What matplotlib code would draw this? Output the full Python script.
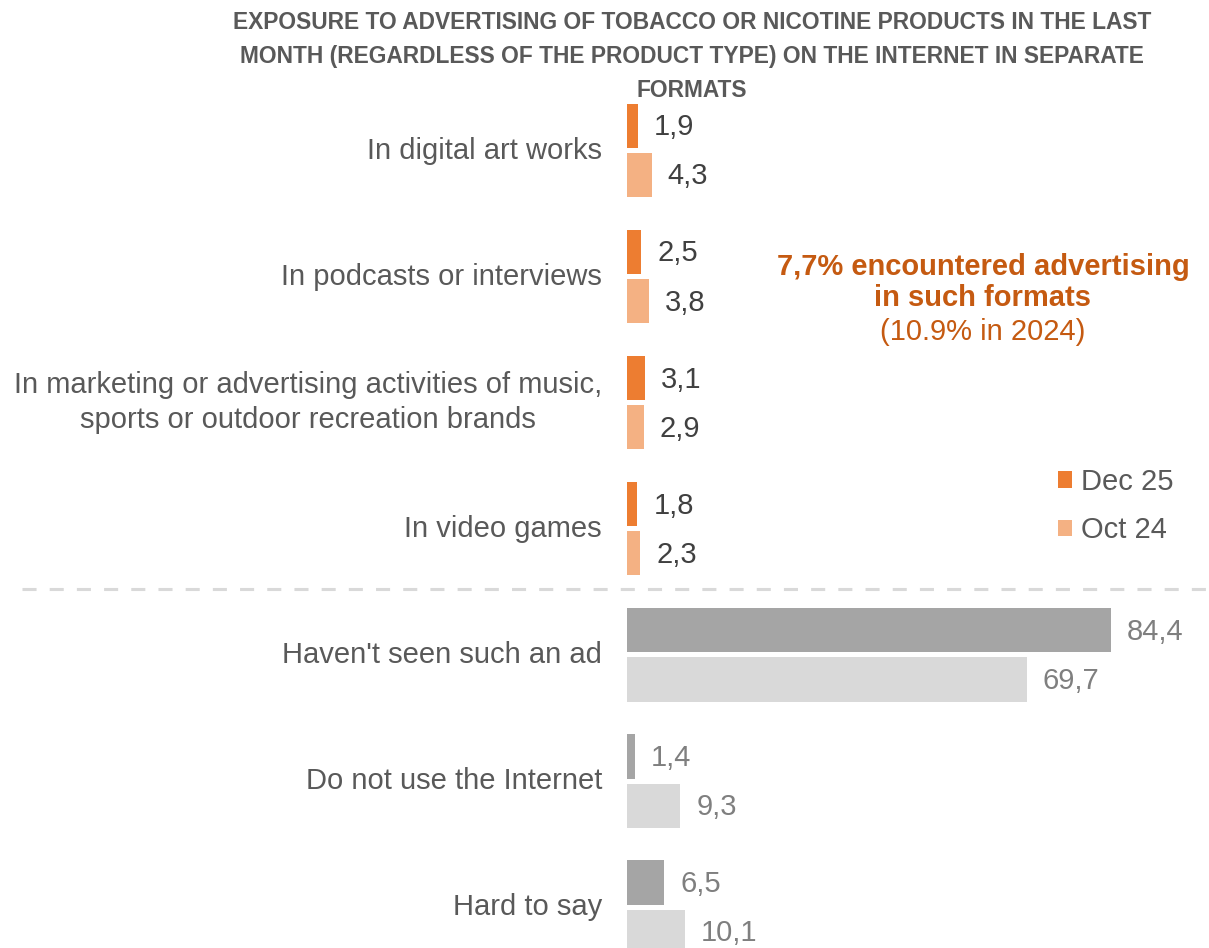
import numpy as np
import matplotlib.pyplot as plt

plt.rcParams["font.family"] = ["Liberation Sans", "DejaVu Sans"]

title = ("EXPOSURE TO ADVERTISING OF TOBACCO OR NICOTINE PRODUCTS IN THE LAST\n"
         "MONTH (REGARDLESS OF THE PRODUCT TYPE) ON THE INTERNET IN SEPARATE\n"
         "FORMATS")

categories = [
    "In digital art works",
    "In podcasts or interviews",
    "In marketing or advertising activities of music,\nsports or outdoor recreation brands",
    "In video games",
    "Haven't seen such an ad",
    "Do not use the Internet",
    "Hard to say",
]
dec25 = [1.9, 2.5, 3.1, 1.8, 84.4, 1.4, 6.5]
oct24 = [4.3, 3.8, 2.9, 2.3, 69.7, 9.3, 10.1]
n_formats = 4  # first rows are the advertising formats, rest are other answers

fmt_colors = ("#ED7D31", "#F4B183")
other_colors = ("#A5A5A5", "#D9D9D9")

W, H = 1209, 948
x0 = 627                 # pixel where bars start
px_per_unit = 5.735

fig = plt.figure(figsize=(W / 100, H / 100), dpi=100)
ax = fig.add_axes([x0 / W, 0, 1 - x0 / W, 1])

y = np.arange(len(categories))
h, off = 0.35, 0.195
for i, (a, b) in enumerate(zip(dec25, oct24)):
    is_fmt = i < n_formats
    c1, c2 = fmt_colors if is_fmt else other_colors
    txt_color = "#404040" if is_fmt else "#7F7F7F"
    ax.barh(y[i] - off, a, height=h, color=c1, label="Dec 25" if i == 0 else None)
    ax.barh(y[i] + off, b, height=h, color=c2, label="Oct 24" if i == 0 else None)
    for val, yy in ((a, y[i] - off), (b, y[i] + off)):
        ax.annotate(f"{val:.1f}".replace(".", ","), (val, yy), xytext=(11.5, -1),
                    textcoords="offset points", va="center", ha="left",
                    fontsize=21, color=txt_color)
    ax.text(-25 / (W - x0), y[i], categories[i], transform=ax.get_yaxis_transform(),
            ha="right", va="center", multialignment="center",
            fontsize=21, color="#595959", linespacing=1.3)

ax.set_xlim(0, (W - x0) / px_per_unit)
ax.set_ylim(6.324, -1.1935)
ax.axis("off")

# separator between formats and other answers
ax.plot([-(x0 - 22) / px_per_unit, (W - x0) / px_per_unit], [3.477, 3.477],
        color="#D9D9D9", lw=2.2, linestyle=(0, (4.6, 4.3)), clip_on=False)

fig.text(692 / W, 1 - 56.5 / H, title, ha="center", va="center",
         fontsize=16.4, fontweight="bold", color="#595959", linespacing=1.6)

fig.text(983 / W, 1 - 282.5 / H, "7,7% encountered advertising\nin such formats",
         ha="center", va="center", fontsize=21, fontweight="bold",
         color="#C55A11", linespacing=1.15)
fig.text(983 / W, 1 - 332 / H, "(10.9% in 2024)", ha="center", va="center",
         fontsize=21, color="#C55A11")

ax.legend(loc="center left", bbox_to_anchor=(1043 / W, 1 - 506 / H),
          bbox_transform=fig.transFigure, frameon=False, fontsize=21,
          labelcolor="#595959", handlelength=0.5, handleheight=0.5,
          handletextpad=0.3, labelspacing=0.7, borderpad=0)

fig.savefig("out.png", dpi=100)
